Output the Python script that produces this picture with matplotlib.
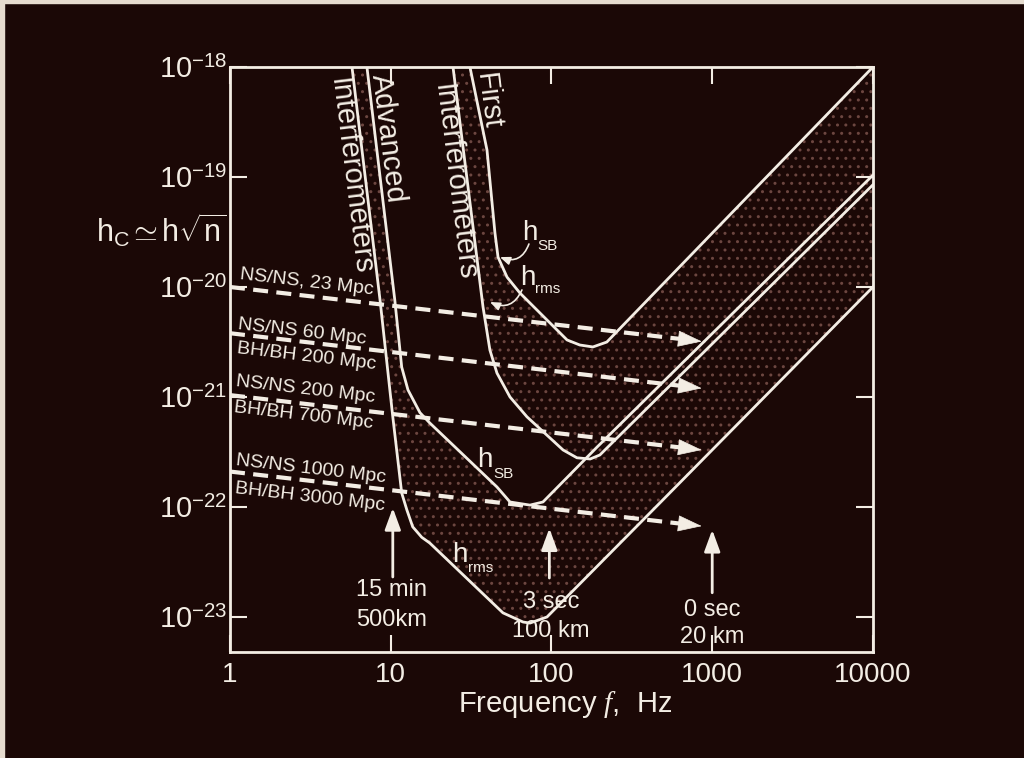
import numpy as np
import matplotlib.pyplot as plt
from matplotlib.patches import Rectangle
from matplotlib.ticker import NullLocator

plt.rcParams['font.family'] = ['Liberation Sans', 'DejaVu Sans']
plt.rcParams['mathtext.fontset'] = 'custom'
plt.rcParams['mathtext.rm'] = 'Liberation Sans'
plt.rcParams['mathtext.sf'] = 'Liberation Sans'
plt.rcParams['mathtext.it'] = 'Liberation Serif:italic'

# noise curves (frequency in Hz, strain)
adv_rms_f = [5.74, 8.58, 10.3, 11.7, 12.6, 13.7, 15.6, 17.5, 49.9, 66.5, 73.5, 93.8, 473, 1e4]
adv_rms_h = [1e-18, 7.6e-21, 6.6e-22, 1.34e-22, 9.4e-23, 6.6e-23, 5.3e-23, 4.7e-23,
             1.09e-23, 9.0e-24, 8.8e-24, 1.0e-23, 1.09e-22, 1.0e-20]
adv_sb_f = [7.11, 10.6, 11.7, 12.8, 15.2, 17.5, 45.8, 55.2, 73.5, 88.5, 192, 1e4]
adv_sb_h = [1e-18, 7.6e-21, 1.87e-21, 1.16e-21, 7.2e-22, 5.8e-22, 1.52e-22, 1.11e-22,
            1.04e-22, 1.11e-22, 3.5e-22, 1.04e-19]
first_rms_f = [24.4, 37.5, 41.4, 45.8, 55.2, 70.4, 118, 144, 174, 200, 1e4]
first_rms_h = [1e-18, 6.6e-21, 2.67e-21, 1.65e-21, 1.0e-21, 6.6e-22, 3.3e-22, 2.8e-22,
               2.73e-22, 2.97e-22, 8.5e-20]
first_sb_f = [31.1, 39.7, 44.5, 46.5, 52.9, 63.7, 125, 150, 181, 221, 1e4]
first_sb_h = [1e-18, 1.76e-19, 3.1e-20, 1.87e-20, 1.23e-20, 8.8e-21, 3.3e-21, 2.97e-21,
              2.85e-21, 3.16e-21, 1e-18]

# inspiral tracks (dashed arrows)
track_f = [1, 860]
track_h_start = [1.0e-20, 3.8e-21, 1.04e-21, 2.1e-22]
track_h_end = [3.2e-21, 1.2e-21, 3.3e-22, 6.7e-23]
track_labels = [['NS/NS, 23 Mpc'],
                ['NS/NS 60 Mpc', 'BH/BH 200 Mpc'],
                ['NS/NS 200 Mpc', 'BH/BH 700 Mpc'],
                ['NS/NS 1000 Mpc', 'BH/BH 3000 Mpc']]

# time-before-merger arrows
mark_f = [10.3, 97, 1000]
mark_tip_h = [9.8e-23, 6.4e-23, 6.2e-23]
mark_tail_h = [2.31e-23, 2.26e-23, 1.66e-23]
mark_text = [['15 min', '500km'], ['3 sec', '100 km'], ['0 sec', '20 km']]

xticks = [1, 10, 100, 1000, 10000]
xlabels = ['1', '10', '100', '1000', '10000']
yticks = [1e-23, 1e-22, 1e-21, 1e-20, 1e-19, 1e-18]
ylabels = ['$10^{-23}$', '$10^{-22}$', '$10^{-21}$', '$10^{-20}$', '$10^{-19}$', '$10^{-18}$']

BG = '#1b0806'
INK = '#f3ede4'
DOT = '#6c4640'


def px(x, y):
    return x / 1024, 1 - y / 758


fig = plt.figure(figsize=(10.24, 7.58), dpi=100, facecolor=BG)
ax = fig.add_axes([0.2246, 0.1398, 0.6279, 0.7718])
ax.set_facecolor(BG)
ax.set_xscale('log')
ax.set_yscale('log')
ax.set_xlim(1, 1e4)
ax.set_ylim(4.8e-24, 1e-18)

# shaded bands
for lo_f, lo_h, hi_f, hi_h in [(adv_rms_f, adv_rms_h, adv_sb_f, adv_sb_h),
                               (first_rms_f, first_rms_h, first_sb_f, first_sb_h)]:
    ax.fill(lo_f + hi_f[::-1], lo_h + hi_h[::-1], facecolor=BG, edgecolor=DOT,
            hatch='..', lw=0, zorder=1)

for f, h in [(adv_rms_f, adv_rms_h), (adv_sb_f, adv_sb_h),
             (first_rms_f, first_rms_h), (first_sb_f, first_sb_h)]:
    ax.plot(f, h, color=INK, lw=2, zorder=3, solid_joinstyle='round')

# dashed tracks with heads
for h0, h1 in zip(track_h_start, track_h_end):
    slope = np.log(h1 / h0) / np.log(track_f[1] / track_f[0])
    fcut = track_f[1] / 1.25
    ax.plot([track_f[0], fcut], [h0, h0 * (fcut / track_f[0]) ** slope], color=INK,
            lw=3, ls=(0, (3.6, 2.0)), zorder=4, solid_capstyle='butt')
    fb = track_f[1] / 1.3
    ax.annotate('', xy=(track_f[1], h1), xytext=(fb, h0 * (fb / track_f[0]) ** slope),
                arrowprops=dict(arrowstyle='-|>,head_length=0.5,head_width=0.17',
                                mutation_scale=32, lw=0.5, color=INK,
                                shrinkA=0, shrinkB=0), zorder=4)

for f, tip, tail in zip(mark_f, mark_tip_h, mark_tail_h):
    ax.annotate('', xy=(f, tip), xytext=(f, tail),
                arrowprops=dict(arrowstyle='-|>,head_length=0.6,head_width=0.22',
                                mutation_scale=22, lw=2, color=INK,
                                shrinkA=0, shrinkB=0), zorder=5)

# pointers to the First interferometer curves
ax.annotate('', xy=(47.8, 1.87e-20), xytext=(72.4, 2.46e-20),
            arrowprops=dict(arrowstyle='-|>,head_length=0.5,head_width=0.2',
                            mutation_scale=12, lw=1.2, color=INK,
                            connectionstyle='arc3,rad=-0.5', shrinkA=0, shrinkB=0))
ax.annotate('', xy=(41.4, 7.3e-21), xytext=(65.5, 9.4e-21),
            arrowprops=dict(arrowstyle='-|>,head_length=0.5,head_width=0.2',
                            mutation_scale=12, lw=1.2, color=INK,
                            connectionstyle='arc3,rad=-0.5', shrinkA=0, shrinkB=0))

ax.set_xticks(xticks)
ax.set_xticklabels(xlabels)
ax.set_yticks(yticks)
ax.set_yticklabels(ylabels)
ax.xaxis.set_minor_locator(NullLocator())
ax.yaxis.set_minor_locator(NullLocator())
ax.tick_params(which='major', direction='in', length=12, width=1.5, color=INK,
               top=True, right=True, labelcolor=INK, labelsize=20)
ax.tick_params(axis='x', pad=7)
ax.tick_params(axis='y', pad=2, labelsize=21)
for s in ax.spines.values():
    s.set_color(INK)
    s.set_linewidth(2)

# rotated band labels
fig.text(*px(350, 176), 'Interferometers', rotation=-83, color=INK, fontsize=21,
         ha='center', va='center')
fig.text(*px(388, 138), 'Advanced', rotation=-83, color=INK, fontsize=21,
         ha='center', va='center')
fig.text(*px(454, 182), 'Interferometers', rotation=-83, color=INK, fontsize=21,
         ha='center', va='center')
fig.text(*px(488, 101), 'First', rotation=-83, color=INK, fontsize=21,
         ha='center', va='center')

# track labels
label_pos = [[(307, 282)], [(302, 332), (306, 357)], [(305, 390), (303, 416)],
             [(311, 469), (310, 497)]]
for texts, poss in zip(track_labels, label_pos):
    for t, p in zip(texts, poss):
        fig.text(*px(*p), t, rotation=-6.6, color=INK, fontsize=14,
                 ha='center', va='center')

# time / distance labels
text_x = [392, 551, 712]
text_y = [(590, 620), (602, 631), (610, 637)]
for t, x, ys in zip(mark_text, text_x, text_y):
    fig.text(*px(x, ys[0]), t[0], color=INK, fontsize=17, ha='center', va='center')
    fig.text(*px(x, ys[1]), t[1], color=INK, fontsize=17, ha='center', va='center')

# h labels
for (hx, hy), (sx, sy), sub in [((522, 240), (537, 250), 'SB'),
                                ((520, 285), (535, 293), 'rms'),
                                ((477, 467), (493, 478), 'SB'),
                                ((452, 562), (468, 572), 'rms')]:
    fig.text(*px(hx, hy), 'h', color=INK, fontsize=20, ha='left', va='baseline')
    fig.text(*px(sx, sy), sub, color=INK, fontsize=11, ha='left', va='baseline')

fig.text(*px(565, 705), r'Frequency $f$,  Hz', color=INK, fontsize=21,
         ha='center', va='center')
fig.text(*px(226, 231), r'$\mathrm{h}_{\mathrm{C}}\simeq\mathrm{h}\sqrt{\mathrm{n}}$',
         color=INK, fontsize=22, ha='right', va='center')

# photo edges
fig.patches.append(Rectangle((0, 0), 4 / 1024, 1, transform=fig.transFigure,
                             color='#e6dccf', zorder=0))
fig.patches.append(Rectangle((0, 1 - 3 / 758), 1, 3 / 758, transform=fig.transFigure,
                             color='#e6dccf', zorder=0))

fig.savefig('out.png', dpi=100, facecolor=BG)
